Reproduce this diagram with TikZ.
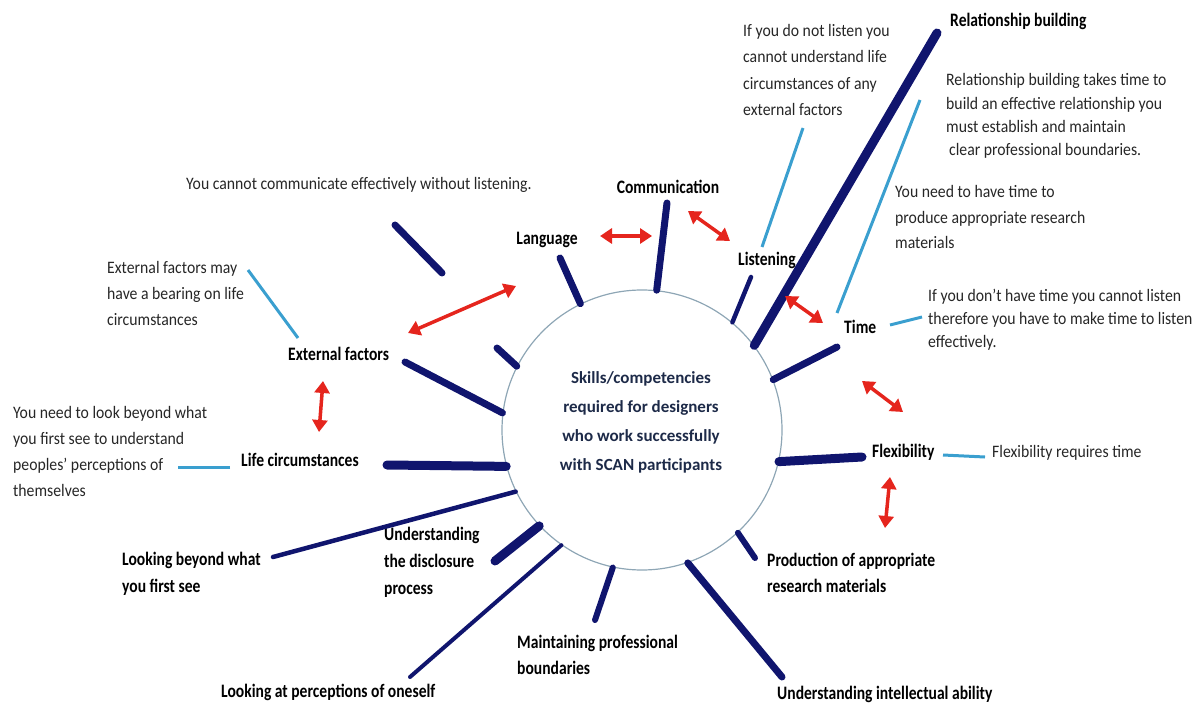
\documentclass[tikz,border=0pt]{standalone}
\usepackage{fontspec}
\setmainfont{Carlito}
\newfontfamily\labelfont[FakeStretch=0.82]{Carlito}
\newfontfamily\notefont[FakeStretch=0.9]{Carlito}
\usepackage{xcolor}
\usetikzlibrary{positioning, arrows.meta, calc}
\definecolor{spokeblue}{HTML}{10156E}
\definecolor{linkred}{HTML}{E5251D}
\definecolor{noteblue}{HTML}{3A9FCF}
\definecolor{rimgrey}{HTML}{8EA6B5}
\definecolor{hubtext}{HTML}{1D2A48}

\tikzset{
  skill/.style={font=\labelfont\bfseries\fontsize{19}{26}\selectfont, inner sep=0pt, align=left, anchor=west},
  note/.style={font=\notefont\fontsize{17.5}{26}\selectfont, text=black!85, inner sep=0pt, align=left, anchor=west},
  spoke/.style={draw=spokeblue, line width=7pt, line cap=round},
  thin spoke/.style={spoke, line width=4.5pt},
  thick spoke/.style={spoke, line width=9pt},
  link/.style={draw=linkred, line width=3.5pt,
    {Triangle[length=12pt,width=15pt]}-{Triangle[length=12pt,width=15pt]}},
  tie/.style={draw=noteblue, line width=3pt},
}

\begin{document}
\begin{tikzpicture}[x=1pt, y=-1pt]
    \useasboundingbox (0,0) rectangle (1204,703);

    % hub
    \node[circle, draw=rimgrey, line width=1.2pt, minimum size=280pt, inner sep=0pt] (hub) at (642,430) {};
    \node[font=\bfseries\fontsize{17}{29}\selectfont, text=hubtext, align=center] (hub-text) at (641,422)
      {Skills/competencies\\required for designers\\who work successfully\\with SCAN participants};

    % skills
    \node[skill, anchor=center] (comm) at (668,187) {Communication};
    \node[skill, anchor=center] (lang) at (547,240) {Language};
    \node[skill] (listen) at (738,260) {Listening};
    \node[skill] (rel) at (950,21) {Relationship building};
    \node[skill] (time) at (844,327) {Time};
    \node[skill] (flex) at (872,452) {Flexibility};
    \node[skill] (prod) at (767,573) {Production of appropriate\\research materials};
    \node[skill] (intel) at (777,694) {Understanding intellectual ability};
    \node[skill] (maint) at (517,655) {Maintaining professional\\boundaries};
    \node[skill] (percep) at (221,692) {Looking at perceptions of oneself};
    \node[skill, font=\labelfont\bfseries\fontsize{19}{27}\selectfont] (discl) at (384,562) {Understanding\\the disclosure\\process};
    \node[skill, font=\labelfont\bfseries\fontsize{19}{27}\selectfont] (beyond) at (122,574) {Looking beyond what\\you first see};
    \node[skill] (life) at (241,460) {Life circumstances};
    \node[skill] (ext) at (288,354) {External factors};

    % notes
    \node[note, font=\notefont\fontsize{17.5}{26.5}\selectfont] (listen-note) at (743,70)
      {If you do not listen you\\cannot understand life\\circumstances of any\\external factors};
    \node[note, font=\notefont\fontsize{17.5}{23.3}\selectfont] (rel-note) at (946,116)
      {Relationship building takes time to\\build an effective relationship you\\must establish and maintain\\\hspace{3pt}clear professional boundaries.};
    \node[note, font=\notefont\fontsize{17.5}{25.5}\selectfont] (prod-note) at (895,217)
      {You need to have time to\\produce appropriate research\\materials};
    \node[note, font=\notefont\fontsize{17.5}{23}\selectfont] (time-note) at (928,320)
      {If you don’t have time you cannot listen\\therefore you have to make time to listen\\effectively.};
    \node[note] (flex-note) at (992,453) {Flexibility requires time};
    \node[note] (comm-note) at (186,185) {You cannot communicate effectively without listening.};
    \node[note] (ext-note) at (107,293)
      {External factors may\\have a bearing on life\\circumstances};
    \node[note] (life-note) at (13,451)
      {You need to look beyond what\\you first see to understand\\peoples’ perceptions of\\themselves};

    % outer ends of the spokes
    \coordinate (lang-end) at (560,258);
    \coordinate (comm-end) at (667,203);
    \coordinate (listen-end) at (751,277);
    \coordinate (rel-end) at (937,33);
    \coordinate (time-end) at (837,347);
    \coordinate (flex-end) at (862,457);
    \coordinate (prod-end) at (755,558);
    \coordinate (intel-end) at (782,677);
    \coordinate (maint-end) at (595,620);
    \coordinate (percep-end) at (410,677);
    \coordinate (discl-end) at (495,561);
    \coordinate (beyond-end) at (273,557);
    \coordinate (life-end) at (387,465);
    \coordinate (ext-end) at (405,362);
    \coordinate (gap-in) at (497,348);
    \coordinate (gap-out) at (442,273);
    \coordinate (gap-end) at (395,225);

    \draw[spoke] (hub.116) -- (lang-end);
    \draw[spoke] (hub.84) -- (comm-end);
    \draw[thin spoke] (hub.50) -- (listen-end);
    \draw[thick spoke] (hub.37) -- (rel-end);
    \draw[spoke] (hub.21) -- (time-end);
    \draw[thick spoke] (hub.-13) -- (flex-end);
    \draw[spoke, line width=6pt] (hub.-47) -- (prod-end);
    \draw[spoke] (hub.-71) -- (intel-end);
    \draw[spoke, line width=6pt] (hub.-102) -- (maint-end);
    \draw[thin spoke, line width=4pt] (hub.-125) -- (percep-end);
    \draw[thick spoke] (hub.-137) -- (discl-end);
    \draw[thin spoke] (hub.-154) -- (beyond-end);
    \draw[thick spoke] (hub.-165) -- (life-end);
    \draw[spoke] (hub.173) -- (ext-end);
    \draw[spoke] (hub.153) -- (gap-in);
    \draw[spoke] (gap-out) -- (gap-end);

    % red links between skills
    \coordinate (l1a) at (600,236);  \coordinate (l1b) at (652,236);
    \coordinate (l2a) at (688,211);  \coordinate (l2b) at (730,241);
    \coordinate (l3a) at (785,296);  \coordinate (l3b) at (823,323);
    \coordinate (l4a) at (408,333);  \coordinate (l4b) at (516,286);
    \coordinate (l5a) at (323,381);  \coordinate (l5b) at (319,432);
    \coordinate (l6a) at (862,381);  \coordinate (l6b) at (903,412);
    \coordinate (l7a) at (890,477);  \coordinate (l7b) at (885,528);
    \foreach \i in {1,...,7}
      \draw[link] (l\i a) -- (l\i b);

    % blue ties to the notes
    \coordinate (t1a) at (762,247);  \coordinate (t1b) at (803,128);
    \coordinate (t2a) at (837,313);  \coordinate (t2b) at (920,100);
    \coordinate (t3a) at (890,325);  \coordinate (t3b) at (922,317);
    \coordinate (t4a) at (943,455);  \coordinate (t4b) at (985,457);
    \coordinate (t5a) at (298,338);  \coordinate (t5b) at (248,270);
    \coordinate (t6a) at (230,467);  \coordinate (t6b) at (178,467);
    \foreach \i in {1,...,6}
      \draw[tie] (t\i a) -- (t\i b);
\end{tikzpicture}
\end{document}
